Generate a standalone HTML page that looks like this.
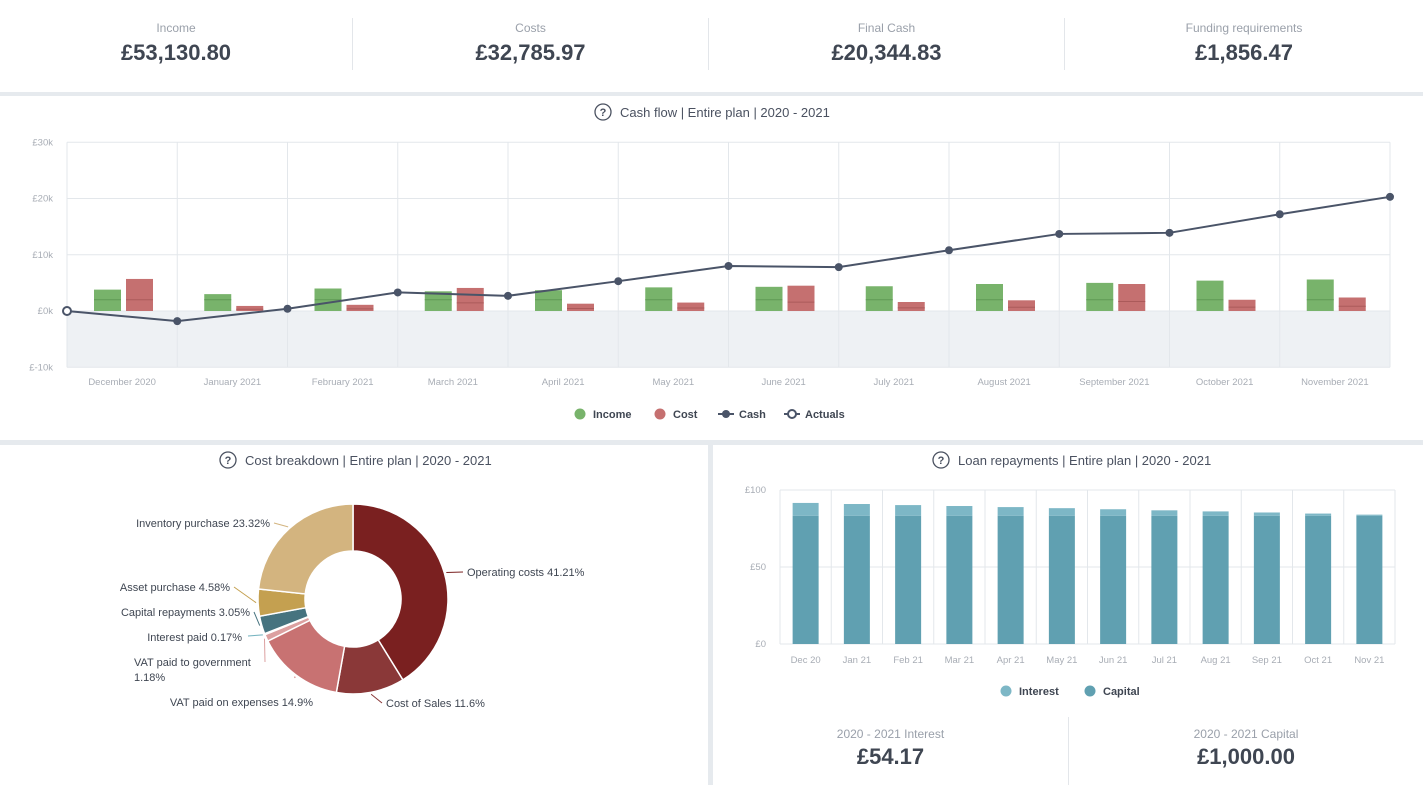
<!DOCTYPE html>
<html><head><meta charset="utf-8"><style>
html,body{margin:0;padding:0;width:1423px;height:785px;overflow:hidden;background:#e6eaee;font-family:"Liberation Sans",sans-serif;}
.panel{position:absolute;background:#fff;}
.kpi{position:absolute;top:0;height:92px;text-align:center;}
.kpi .l{position:absolute;top:21px;width:100%;font-size:12px;color:#9aa0aa;}
.kpi .v{position:absolute;top:40px;width:100%;font-size:22px;font-weight:bold;color:#3f4652;}
.sep{position:absolute;width:1px;background:#e3e6ea;}
svg text{font-family:"Liberation Sans",sans-serif;}
</style></head><body>
<div class="panel" style="left:0;top:0;width:1423px;height:92px">
 <div class="kpi" style="left:0;width:352px"><div class="l">Income</div><div class="v">£53,130.80</div></div>
 <div class="sep" style="left:352px;top:18px;height:52px"></div>
 <div class="kpi" style="left:353px;width:355px"><div class="l">Costs</div><div class="v">£32,785.97</div></div>
 <div class="sep" style="left:708px;top:18px;height:52px"></div>
 <div class="kpi" style="left:709px;width:355px"><div class="l">Final Cash</div><div class="v">£20,344.83</div></div>
 <div class="sep" style="left:1064px;top:18px;height:52px"></div>
 <div class="kpi" style="left:1065px;width:358px"><div class="l">Funding requirements</div><div class="v">£1,856.47</div></div>
</div>
<div class="panel" style="left:0;top:96px;width:1423px;height:344px"></div>
<div class="panel" style="left:0;top:445px;width:708px;height:340px"></div>
<div class="panel" style="left:713px;top:445px;width:710px;height:340px">
 <div class="kpi" style="left:0;top:265px;width:355px;height:75px"><div class="l" style="top:17px">2020 - 2021 Interest</div><div class="v" style="top:34px">£54.17</div></div>
 <div class="sep" style="left:355px;top:272px;height:68px"></div>
 <div class="kpi" style="left:356px;top:265px;width:354px;height:75px"><div class="l" style="top:17px">2020 - 2021 Capital</div><div class="v" style="top:34px">£1,000.00</div></div>
</div>
<svg id="s" width="1423" height="785" style="position:absolute;left:0;top:0"></svg>
<script>
const months=["December 2020","January 2021","February 2021","March 2021","April 2021","May 2021","June 2021","July 2021","August 2021","September 2021","October 2021","November 2021"];
const income=[3.8,3.0,4.0,3.5,3.7,4.2,4.3,4.4,4.8,5.0,5.4,5.6];
const cost=[5.7,0.9,1.1,4.1,1.3,1.5,4.5,1.6,1.9,4.8,2.0,2.4];
const cash=[0,-1.8,0.4,3.3,2.7,5.3,8.0,7.8,10.8,13.7,13.9,17.2,20.3];
const cashTicks=[30,20,10,0,-10];
const loanMonths=["Dec 20","Jan 21","Feb 21","Mar 21","Apr 21","May 21","Jun 21","Jul 21","Aug 21","Sep 21","Oct 21","Nov 21"];
const capital=[83.3,83.3,83.3,83.3,83.3,83.3,83.3,83.3,83.3,83.3,83.3,83.3];
const interest=[8.3,7.6,6.9,6.3,5.6,4.9,4.2,3.5,2.8,2.1,1.4,0.7];
const loanTicks=[100,50,0];
const sliceLabels=["Operating costs 41.21%","Cost of Sales 11.6%","VAT paid on expenses 14.9%","VAT paid to government","Interest paid 0.17%","Capital repayments 3.05%","Asset purchase 4.58%","Inventory purchase 23.32%"];
const sliceValues=[41.21,11.6,14.9,1.18,0.17,3.05,4.58,23.32];
const sliceColors=["#7a2020","#8a3838","#c87272","#dca0a0","#6fb0bd","#46737f","#c4a050","#d3b47f"];
const S=document.getElementById('s');const NS="http://www.w3.org/2000/svg";
function mk(t,a,p){const e=document.createElementNS(NS,t);for(const k in a)e.setAttribute(k,a[k]);(p||S).appendChild(e);return e;}
function tx(x,y,s,a){const e=mk('text',Object.assign({x:x,y:y,'font-size':11,fill:'#9aa0aa'},a||{}));e.textContent=s;return e;}
function help(x,y){const g=mk('g',{});mk('circle',{cx:x,cy:y,r:8,fill:'none',stroke:'#4a5160','stroke-width':1.3},g);const t=tx(x,y+4,'?',{'text-anchor':'middle','font-size':11,'font-weight':'bold',fill:'#4a5160'});g.appendChild(t);}
help(603,112);tx(620,117,'Cash flow | Entire plan | 2020 - 2021',{'font-size':13,fill:'#4a5160'});
help(228,460);tx(245,465,'Cost breakdown | Entire plan | 2020 - 2021',{'font-size':13,fill:'#4a5160'});
help(941,460);tx(958,465,'Loan repayments | Entire plan | 2020 - 2021',{'font-size':13,fill:'#4a5160'});
const cx0=67,cx1=1390,cw=(cx1-cx0)/12;
const yC=v=>311-v*5.625;
mk('rect',{x:cx0,y:yC(0),width:cx1-cx0,height:yC(-10)-yC(0),fill:'#eef1f4'});
cashTicks.forEach(t=>{mk('line',{x1:cx0,x2:cx1,y1:yC(t),y2:yC(t),stroke:'#e3e7eb'});const e=tx(53,yC(t)+3,'£'+t+'k',{'text-anchor':'end','font-size':9.5,fill:'#a8adb5'});});
for(let i=0;i<=12;i++)mk('line',{x1:cx0+i*cw,x2:cx0+i*cw,y1:yC(30),y2:yC(-10),stroke:'#e3e7eb'});
months.forEach((m,i)=>{const x=cx0+i*cw;
 let r=mk('rect',{x:x+27,y:yC(income[i]),width:27,height:yC(0)-yC(income[i]),fill:'#78b36b'});
 mk('line',{x1:x+27,x2:x+54,y1:yC(Math.min(2,income[i])),y2:yC(Math.min(2,income[i])),stroke:'#5f9a55','stroke-width':1});
 r=mk('rect',{x:x+59,y:yC(cost[i]),width:27,height:yC(0)-yC(cost[i]),fill:'#c57070'});
 mk('line',{x1:x+59,x2:x+86,y1:yC(cost[i]*0.35),y2:yC(cost[i]*0.35),stroke:'#ab5a5a','stroke-width':1});
 const e=tx(x+cw/2,385,m,{'text-anchor':'middle','font-size':9.5,fill:'#a8adb5'});});
let pts=cash.map((v,i)=>(cx0+i*cw)+','+yC(v)).join(' ');
const pl=mk('polyline',{points:pts,fill:'none',stroke:'#4a5468','stroke-width':2});
cash.forEach((v,i)=>{const c=mk('circle',{cx:cx0+i*cw,cy:yC(v),r:4,fill:i==0?'#fff':'#4a5468',stroke:'#4a5468','stroke-width':i==0?2:0});});
function leg(x,y,col,label,kind){const g=mk('g',{});
 if(kind=='dot')mk('circle',{cx:x,cy:y,r:5.5,fill:col},g);
 else{mk('line',{x1:x-8,x2:x+8,y1:y,y2:y,stroke:'#4a5468','stroke-width':2},g);mk('circle',{cx:x,cy:y,r:4,fill:kind=='hollow'?'#fff':'#4a5468',stroke:'#4a5468','stroke-width':kind=='hollow'?2:0},g);}
 const t=tx(x+13,y+4,label,{'font-size':11,'font-weight':'bold',fill:'#3f4652'});g.appendChild(t);}
leg(580,414,'#78b36b','Income','dot');leg(660,414,'#c57070','Cost','dot');leg(726,414,0,'Cash','line');leg(792,414,0,'Actuals','hollow');
const lx0=780,lx1=1395,lw=(lx1-lx0)/12;const yL=v=>644-v*1.54;
loanTicks.forEach(t=>{mk('line',{x1:lx0,x2:lx1,y1:yL(t),y2:yL(t),stroke:'#e3e7eb'});const e=tx(766,yL(t)+3,'£'+t,{'text-anchor':'end','font-size':9.5,fill:'#a8adb5'});});
for(let i=0;i<=12;i++)mk('line',{x1:lx0+i*lw,x2:lx0+i*lw,y1:yL(100),y2:yL(0),stroke:'#e3e7eb'});
loanMonths.forEach((m,i)=>{const x=lx0+i*lw+lw/2-13;
 let r=mk('rect',{x:x,y:yL(capital[i]),width:26,height:yL(0)-yL(capital[i]),fill:'#60a0b1'});
 r=mk('rect',{x:x,y:yL(capital[i]+interest[i]),width:26,height:yL(capital[i])-yL(capital[i]+interest[i]),fill:'#7db7c6'});
 const e=tx(x+13,663,m,{'text-anchor':'middle','font-size':9.5,fill:'#a8adb5'});});
leg(1006,691,'#7db7c6','Interest','dot');leg(1090,691,'#60a0b1','Capital','dot');
const dcx=353,dcy=599,R=95,r0=48;const tot=sliceValues.reduce((a,b)=>a+b,0);
let a0=-Math.PI/2;
const P=(a,r)=>[dcx+r*Math.cos(a),dcy+r*Math.sin(a)];
const labelPos=[[467,576,'start'],[386,707,'start'],[313,706,'end'],[134,666,'start'],[242,641,'end'],[250,616,'end'],[230,591,'end'],[270,527,'end']];
const leaderEnd=[[463,572],[382,703],[295,678],[265,662],[248,636],[254,612],[234,587],[274,523]];
sliceValues.forEach((v,i)=>{const a1=a0+v/tot*2*Math.PI;const big=(a1-a0)>Math.PI?1:0;
 const [x1,y1]=P(a0,R),[x2,y2]=P(a1,R),[x3,y3]=P(a1,r0),[x4,y4]=P(a0,r0);
 const p=mk('path',{d:`M${x1},${y1}A${R},${R} 0 ${big} 1 ${x2},${y2}L${x3},${y3}A${r0},${r0} 0 ${big} 0 ${x4},${y4}Z`,fill:sliceColors[i],stroke:'#fff','stroke-width':1.5});
 
 const am=(a0+a1)/2;const [ex,ey]=P(am,R+2);const le=leaderEnd[i];
 const ln=mk('line',{x1:ex,y1:ey,x2:le[0],y2:le[1],stroke:sliceColors[i],'stroke-width':1});
 
 a0=a1;});
labelPos.forEach((lp,i)=>{const e=tx(lp[0],lp[1],sliceLabels[i],{'text-anchor':lp[2],'font-size':11,fill:'#3f4652'});});
tx(134,681,'1.18%',{'font-size':11,fill:'#3f4652'});
</script>
</body></html>
